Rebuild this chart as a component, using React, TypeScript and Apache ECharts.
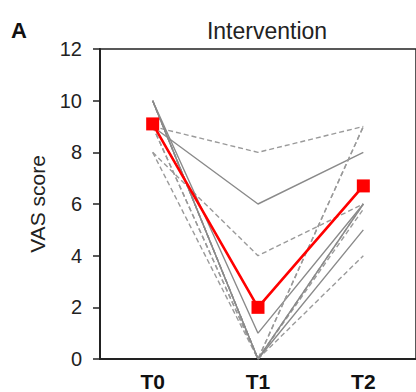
import React, { useEffect, useRef } from "react";
import * as echarts from "echarts";

const categories = ["T0", "T1", "T2"];
const yTicks = [0, 2, 4, 6, 8, 10, 12];

// individual patients (grey), style: dashed or solid
const p1 = [9, 8, 9];
const p2 = [9, 6, 8];
const p3 = [8, 4, 6];
const p4 = [10, 1, 6];
const p5 = [10, 0, 9];
const p6 = [9, 0, 9];
const p7 = [10, 0, 6];
const p8 = [9, 0, 5.8];
const p9 = [10, 0, 5];
const p10 = [8, 0, 4];
const p11 = [10, 0, 6];
const patients = [p1, p2, p3, p4, p5, p6, p7, p8, p9, p10, p11];
const patientStyles = ["dashed", "solid", "dashed", "solid", "dashed", "dashed", "dashed", "dashed", "solid", "dashed", "solid"];

const meanValues = [9.1, 2.0, 6.7];

export default function App() {
  const ref = useRef<HTMLDivElement>(null);
  useEffect(() => {
    if (!ref.current) return;
    const chart = echarts.init(ref.current, null, { renderer: "svg" });
    const font = "Liberation Sans, Arial, Helvetica, sans-serif";
    const series: any[] = patients.map((d, i) => ({
      type: "line",
      data: d,
      symbol: "none",
      silent: true,
      lineStyle: {
        color: patientStyles[i] === "dashed" ? "#9a9a9a" : "#8a8a8a",
        width: 1.4,
        type: patientStyles[i] === "dashed" ? [5, 3] : "solid",
      },
      z: 2,
    }));
    series.push({
      type: "line",
      data: meanValues,
      symbol: "rect",
      symbolSize: 13,
      itemStyle: { color: "#ff0000" },
      lineStyle: { color: "#ff0000", width: 2.6 },
      z: 5,
    });
    chart.setOption({
      animation: false,
      textStyle: { fontFamily: font },
      title: [
        {
          text: "Intervention",
          left: 262,
          top: 14,
          textAlign: "center",
          textStyle: { fontSize: 23, fontWeight: "normal", color: "#222", fontFamily: font },
        },
        {
          text: "A",
          left: 11,
          top: 19,
          padding: 0,
          textStyle: { fontSize: 22, fontWeight: "bold", color: "#111", fontFamily: font },
        },
      ],
      grid: {
        left: 100,
        top: 49,
        bottom: 32,
        width: 321,
        show: true,
        borderColor: "#222",
        borderWidth: 1.5,
        backgroundColor: "transparent",
      },
      xAxis: {
        type: "category",
        data: categories,
        boundaryGap: true,
        axisLine: { show: true, lineStyle: { color: "#222", width: 2 } },
        axisTick: { show: false },
        axisLabel: { fontSize: 21, color: "#111", margin: 12, fontWeight: "bold", fontFamily: font },
      },
      yAxis: {
        type: "value",
        min: yTicks[0],
        max: yTicks[yTicks.length - 1],
        interval: 2,
        splitLine: { show: false },
        axisLine: { show: true, lineStyle: { color: "#222", width: 2 } },
        axisTick: { show: true, length: 7, lineStyle: { color: "#222", width: 1.5 } },
        axisLabel: { fontSize: 20, color: "#222", margin: 18, fontFamily: font },
        name: "VAS score",
        nameLocation: "middle",
        nameGap: 52,
        nameTextStyle: { fontSize: 21, color: "#222", fontFamily: font },
      },
      series,
    });
    return () => chart.dispose();
  }, []);
  return (
    <div
      ref={ref}
      style={{ position: "absolute", left: 0, top: 0, width: 416, height: 392, background: "#fff" }}
    />
  );
}
